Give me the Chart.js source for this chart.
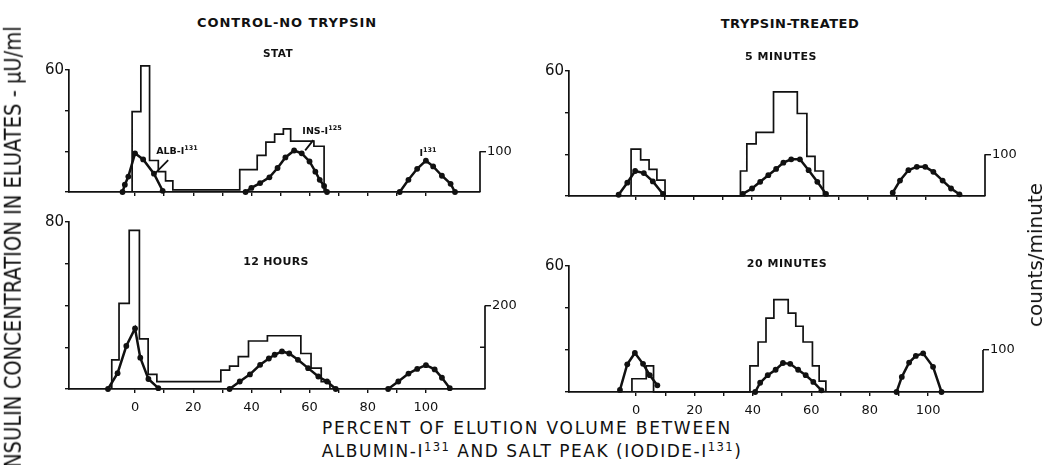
<!doctype html>
<html>
<head>
<meta charset="utf-8">
<title>Insulin elution</title>
<script src="https://cdn.jsdelivr.net/npm/chart.js@4.4.1/dist/chart.umd.min.js"></script>
<style>
  body { margin: 0; background: #fff; }
  #fig { position: relative; width: 1050px; height: 465px; overflow: hidden; font-family: "DejaVu Sans", sans-serif; color: #111; }
  #fig canvas { position: absolute; }
  .t { position: absolute; white-space: nowrap; transform: translate(-50%, -50%); }
  .b { font-weight: bold; }
  sup { font-size: 0.68em; vertical-align: 0.5em; line-height: 0; }
</style>
</head>
<body>
<div id="fig">
  <canvas id="statChart"></canvas>
  <canvas id="hr12Chart"></canvas>
  <canvas id="min5Chart"></canvas>
  <canvas id="min20Chart"></canvas>

  <div class="t b" style="left:287px;top:22px;font-size:13px;letter-spacing:0.9px">CONTROL-NO TRYPSIN</div>
  <div class="t b" style="left:278px;top:53px;font-size:10.5px;letter-spacing:0.4px">STAT</div>
  <div class="t b" style="left:790px;top:23px;font-size:13px;letter-spacing:0.5px">TRYPSIN-TREATED</div>
  <div class="t b" style="left:781px;top:56px;font-size:11px;letter-spacing:0.5px">5 MINUTES</div>
  <div class="t b" style="left:276px;top:261px;font-size:11px;letter-spacing:0.3px">12 HOURS</div>
  <div class="t b" style="left:787px;top:263px;font-size:11px;letter-spacing:0.5px">20 MINUTES</div>

  <div class="t b" style="left:177px;top:150px;font-size:9.5px">ALB-I<sup>131</sup></div>
  <div class="t b" style="left:322px;top:130px;font-size:9.5px">INS-I<sup>125</sup></div>
  <div class="t b" style="left:428px;top:152px;font-size:9.5px">I<sup>131</sup></div>

  <div class="t" style="left:527px;top:428px;font-size:17px;letter-spacing:1.8px">PERCENT OF ELUTION VOLUME BETWEEN</div>
  <div class="t" style="left:532px;top:451px;font-size:17px;letter-spacing:1.5px">ALBUMIN-I<sup>131</sup> AND SALT PEAK (IODIDE-I<sup>131</sup>)</div>

  <div class="t" style="left:13px;top:250px;font-size:19.5px;transform:translate(-50%,-50%) rotate(-90deg) scaleY(1.15)">INSULIN CONCENTRATION IN ELUATES - µU/ml</div>
  <div class="t" style="left:1035px;top:255px;font-size:20px;transform:translate(-50%,-50%) rotate(-90deg)">counts/minute</div>
</div>
<script>
// x ticks, percent of elution volume
var xTicks = [0, 10, 20, 30, 40, 50, 60, 70, 80, 90, 100];
var xLabels = [0, 20, 40, 60, 80, 100];

// STAT (control)
var statHistEdges = [-1, 2, 5, 8, 10.5, 13, 36, 42, 45, 48, 51, 53.5, 61.5, 65];
var statHistValues = [39.5, 62, 15.5, 10, 5.5, 1, 11, 18, 24.5, 28.5, 31, 25, 22.5];
var statAlbX = [-4.3, -3.5, -2.3, 0, 2.8, 6.5, 9.5];
var statAlbCounts = [0, 18, 38, 95, 80, 45, 3];
var statInsX = [38, 40, 43, 46.2, 49, 51.7, 54.7, 57.3, 60, 62, 63.5, 65, 66];
var statInsCounts = [0, 10, 22, 36, 59, 85, 102, 95, 75, 50, 30, 15, 0];
var statIodX = [91, 94, 97, 100, 102.5, 105.5, 108.5, 110];
var statIodCounts = [0, 30, 57, 77, 63, 40, 20, 0];

// 12 HOURS (control)
var hr12HistEdges = [-8, -5.5, -2, 1.5, 4.5, 7.5, 29.5, 32.5, 35.5, 39, 45.5, 57, 60.5, 64, 67];
var hr12HistValues = [14, 41, 76, 24, 7, 3.5, 9, 11, 15.5, 23, 25.5, 17, 10, 3.5];
var hr12AlbX = [-9.3, -6, -3, 0, 1.8, 4.6, 8];
var hr12AlbCounts = [0, 38, 103, 145, 75, 24, 2];
var hr12InsX = [32.5, 36, 39.5, 43, 46, 48, 50.5, 53, 56, 59.5, 63, 66, 69];
var hr12InsCounts = [0, 18, 35, 58, 73, 82, 90, 85, 70, 50, 30, 18, 0];
var hr12IodX = [87, 90.5, 94, 97, 100, 103, 105.5, 108.2];
var hr12IodCounts = [0, 18, 37, 48, 57, 47, 27, 2];

// 5 MINUTES (trypsin)
var min5HistEdges = [-1.7, 1.6, 4.5, 7.2, 10, 36, 38.2, 41.4, 47.4, 55.6, 58.9, 61.7, 64.6];
var min5HistValues = [22.5, 17.3, 12.8, 7.6, 0, 12, 25, 30.5, 50, 39.6, 19, 12];
var min5AlbX = [-6, -3, -0.3, 2.7, 5.8, 9.3];
var min5AlbCounts = [3, 32, 60, 55, 35, 5];
var min5InsX = [36.8, 40, 42.8, 45.6, 48.3, 50.8, 53.5, 56.5, 59.5, 62.5, 65.5];
var min5InsCounts = [5, 18, 34, 50, 65, 80, 88, 88, 62, 34, 5];
var min5IodX = [88.5, 91, 93.9, 96.8, 99.7, 102.5, 105.7, 108.6, 111.5];
var min5IodCounts = [8, 37, 62, 70, 70, 58, 37, 18, 4];

// 20 MINUTES (trypsin)
var min20HistEdges = [-1.4, 3.5, 6, 39, 41.8, 44.5, 47.2, 52.1, 54.7, 57.2, 60.4, 62.7, 65];
var min20HistValues = [6.3, 12.4, 0, 12.4, 23.8, 35.2, 44, 37.6, 31.3, 23.8, 12.4, 5.2];
var min20AlbX = [-5.5, -3, -0.4, 2.4, 4.7, 7.3];
var min20AlbCounts = [5, 66, 93, 67, 40, 16];
var min20InsX = [40.8, 42.5, 45.1, 47.8, 50.3, 52.8, 55.5, 58.1, 60.7, 63.5];
var min20InsCounts = [0, 22, 40, 53, 69, 67, 53, 40, 24, 4];
var min20IodX = [89.2, 91, 93.5, 95.8, 98.3, 101.7, 104.6];
var min20IodCounts = [0, 36, 70, 86, 92, 60, 0];

var INK = "#111";
var padL = 45, padR = 40, padT = 12, padB = 25;

Chart.defaults.font.family = "DejaVu Sans";
Chart.defaults.color = INK;

// histogram bins -> stepped line points
function histPoints(edges, values) {
  var pts = [{ x: edges[0], y: 0 }];
  values.forEach(function (v, i) {
    pts.push({ x: edges[i + 1], y: v });
  });
  pts.push({ x: edges[edges.length - 1], y: 0 });
  return pts;
}

function curvePoints(xs, ys) {
  return xs.map(function (x, i) { return { x: x, y: ys[i] }; });
}

// right axis only goes up to its labelled value, plus label pointers
var panelExtras = {
  id: "panelExtras",
  afterDatasetsDraw: function (chart, args, opts) {
    var ctx = chart.ctx, area = chart.chartArea, s = chart.scales;
    ctx.save();
    ctx.strokeStyle = INK;
    ctx.lineWidth = 1.7;
    ctx.beginPath();
    ctx.moveTo(area.right, s.y2.getPixelForValue(0));
    ctx.lineTo(area.right, s.y2.getPixelForValue(opts.axisTop));
    (opts.innerTicks || []).forEach(function (v) {
      var yy = s.y2.getPixelForValue(v);
      ctx.moveTo(area.right, yy);
      ctx.lineTo(area.right - 5, yy);
    });
    ctx.stroke();
    ctx.lineWidth = 1.8;
    ctx.beginPath();
    (opts.pointers || []).forEach(function (p) {
      ctx.moveTo(s.x.getPixelForValue(p[0]), s.y.getPixelForValue(p[1]));
      ctx.lineTo(s.x.getPixelForValue(p[2]), s.y.getPixelForValue(p[3]));
    });
    ctx.stroke();
    ctx.restore();
  }
};

var panels = [
  { id: "statChart", left: 69, top: 70, right: 480, bottom: 192, xMin: -22.7, xMax: 118.6,
    yMax: 60, y2Max: 300, y2Ticks: [100], innerTicks: [], showX: false,
    hist: [statHistEdges, statHistValues],
    curves: [[statAlbX, statAlbCounts], [statInsX, statInsCounts], [statIodX, statIodCounts]],
    pointers: [[11.4, 15.7, 6.9, 9.2], [61.3, 25.5, 58.5, 20.5]] },
  { id: "hr12Chart", left: 69, top: 222, right: 485, bottom: 389, xMin: -22.7, xMax: 120.3,
    yMax: 80, y2Max: 400, y2Ticks: [200], innerTicks: [100], showX: true,
    hist: [hr12HistEdges, hr12HistValues],
    curves: [[hr12AlbX, hr12AlbCounts], [hr12InsX, hr12InsCounts], [hr12IodX, hr12IodCounts]],
    pointers: [] },
  { id: "min5Chart", left: 569, top: 71, right: 985, bottom: 196, xMin: -23.1, xMax: 120.3,
    yMax: 60, y2Max: 300, y2Ticks: [100], innerTicks: [], showX: false,
    hist: [min5HistEdges, min5HistValues],
    curves: [[min5AlbX, min5AlbCounts], [min5InsX, min5InsCounts], [min5IodX, min5IodCounts]],
    pointers: [] },
  { id: "min20Chart", left: 569, top: 266, right: 983, bottom: 392, xMin: -22.95, xMax: 118.8,
    yMax: 60, y2Max: 300, y2Ticks: [100], innerTicks: [], showX: true,
    hist: [min20HistEdges, min20HistValues],
    curves: [[min20AlbX, min20AlbCounts], [min20InsX, min20InsCounts], [min20IodX, min20IodCounts]],
    pointers: [] }
];

panels.forEach(function (p) {
  var canvas = document.getElementById(p.id);
  canvas.width = p.right - p.left + padL + padR;
  canvas.height = p.bottom - p.top + padT + padB;
  canvas.style.left = (p.left - padL) + "px";
  canvas.style.top = (p.top - padT) + "px";

  var leftTicks = [];
  for (var v = 0; v <= p.yMax; v += 20) leftTicks.push(v);

  var datasets = [{
    data: histPoints(p.hist[0], p.hist[1]),
    stepped: "after",
    borderColor: INK,
    borderWidth: 1.7,
    pointRadius: 0,
    clip: false,
    yAxisID: "y"
  }];
  p.curves.forEach(function (c) {
    datasets.push({
      data: curvePoints(c[0], c[1]),
      borderColor: INK,
      borderWidth: 2.5,
      pointRadius: 2.9,
      pointBorderWidth: 0,
      pointBackgroundColor: INK,
      clip: false,
      yAxisID: "y2"
    });
  });

  new Chart(canvas.getContext("2d"), {
    type: "line",
    data: { datasets: datasets },
    options: {
      responsive: false,
      animation: false,
      events: [],
      layout: { padding: { top: padT, left: 0, right: 0, bottom: 0 } },
      plugins: {
        legend: { display: false },
        tooltip: { enabled: false },
        panelExtras: { axisTop: p.y2Ticks[p.y2Ticks.length - 1], innerTicks: p.innerTicks, pointers: p.pointers }
      },
      scales: {
        x: {
          type: "linear",
          min: p.xMin,
          max: p.xMax,
          afterBuildTicks: function (s) { s.ticks = xTicks.map(function (t) { return { value: t }; }); },
          afterFit: function (s) { s.height = padB; },
          border: { display: true, color: INK, width: 1.7 },
          grid: { drawOnChartArea: false, color: INK, lineWidth: 1.4, tickLength: 4 },
          ticks: {
            display: p.showX,
            padding: 7,
            maxRotation: 0,
            autoSkip: false,
            font: { size: 13 },
            callback: function (val) { return xLabels.indexOf(val) >= 0 ? String(val) : ""; }
          }
        },
        y: {
          position: "left",
          min: 0,
          max: p.yMax,
          afterBuildTicks: function (s) { s.ticks = leftTicks.map(function (t) { return { value: t }; }); },
          afterFit: function (s) { s.width = padL; },
          border: { display: true, color: INK, width: 1.7 },
          grid: { drawOnChartArea: false, color: INK, lineWidth: 1.4, tickLength: 4 },
          ticks: {
            padding: 1,
            font: { size: 15 },
            callback: function (val) { return val === p.yMax ? String(val) : ""; }
          }
        },
        y2: {
          position: "right",
          min: 0,
          max: p.y2Max,
          afterBuildTicks: function (s) { s.ticks = p.y2Ticks.map(function (t) { return { value: t }; }); },
          afterFit: function (s) { s.width = padR; },
          border: { display: false },
          grid: { drawOnChartArea: false, color: INK, lineWidth: 1.4, tickLength: 6 },
          ticks: { padding: 1, font: { size: 13 } }
        }
      }
    },
    plugins: [panelExtras]
  });
});
</script>
</body>
</html>
